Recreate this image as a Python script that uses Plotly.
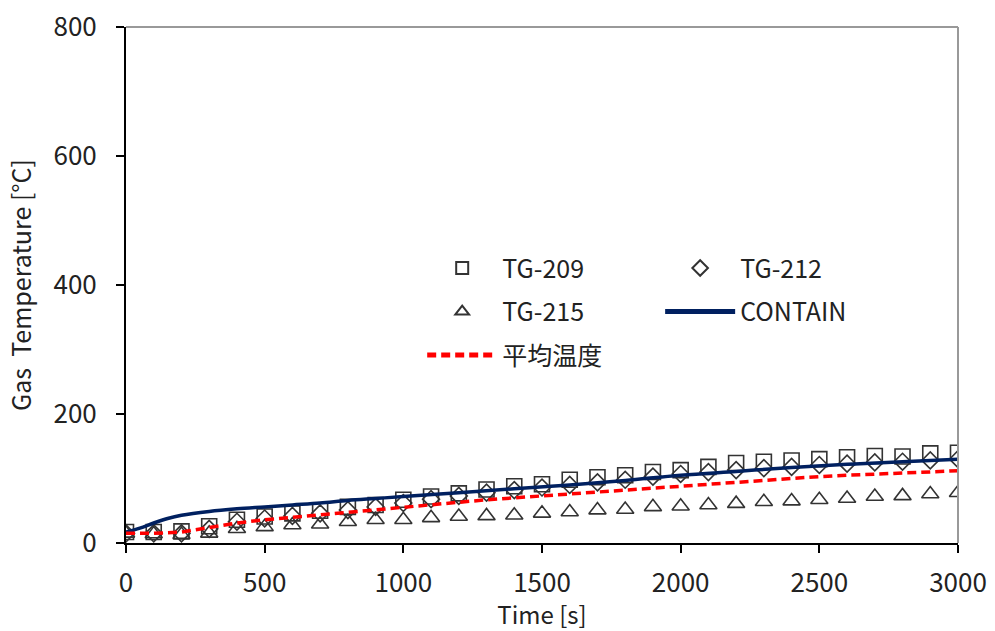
import plotly.graph_objects as go

# ---- data ----
time_tg = [0, 100, 200, 300, 400, 500, 600, 700, 800, 900, 1000, 1100, 1200, 1300, 1400, 1500,
           1600, 1700, 1800, 1900, 2000, 2100, 2200, 2300, 2400, 2500, 2600, 2700, 2800, 2900, 3000]
tg209 = [17, 17, 18, 26, 36, 41, 46, 50, 56, 59, 67, 72, 77, 83, 88, 91,
         98, 102, 105, 110, 113, 118, 124, 126, 128, 130, 133, 135, 134, 139, 140]
tg212 = [15, 15, 15, 22, 33, 38, 42, 46, 51, 56, 62, 68, 73, 78, 82, 86,
         90, 94, 98, 103, 107, 110, 113, 116, 118, 121, 123, 125, 126, 128, 130]
tg215 = [15, 14, 13, 15, 22, 25, 28, 29, 33, 36, 36, 39, 41, 42, 43, 46,
         48, 51, 52, 56, 57, 59, 61, 64, 65, 67, 69, 72, 73, 76, 78]
avg_temp = [15, 15, 17, 24, 31, 36, 40, 44, 48, 52, 55, 59, 63, 67, 70, 73,
            76, 79, 82, 85, 88, 91, 95, 98, 100, 103, 105, 107, 109, 111, 112]
time_contain = [0, 50, 100, 150, 200, 300, 400, 500, 600, 700, 800, 900, 1000, 1200, 1400,
                1600, 1800, 2000, 2200, 2400, 2600, 2800, 3000]
contain = [17, 23, 31, 38, 43, 49, 53, 56, 59, 62, 66, 69, 72, 78, 84,
           90, 97, 105, 111, 117, 122, 126, 130]

x_ticks = [0, 500, 1000, 1500, 2000, 2500, 3000]
y_ticks = [0, 200, 400, 600, 800]

FONT = "Noto Sans CJK JP"
MK = "#333333"

fig = go.Figure()
fig.add_trace(go.Scatter(x=time_tg, y=tg209, mode="markers", name="TG-209",
                         marker=dict(symbol="square-open", size=15, color=MK, line=dict(width=1.6, color=MK)),
                         legend="legend", legendgroup="a"))
fig.add_trace(go.Scatter(x=time_tg, y=tg212, mode="markers", name="TG-212",
                         marker=dict(symbol="diamond-open", size=13, color=MK, line=dict(width=1.6, color=MK)),
                         legend="legend2", legendgroup="b"))
fig.add_trace(go.Scatter(x=time_tg, y=tg215, mode="markers", name="TG-215",
                         marker=dict(symbol="triangle-up-open", size=15, color=MK, line=dict(width=1.6, color=MK)),
                         legend="legend", legendgroup="c"))
fig.add_trace(go.Scatter(x=time_contain, y=contain, mode="lines", name="CONTAIN",
                         line=dict(color="#002060", width=3.5, shape="spline"),
                         legend="legend2", legendgroup="d"))
fig.add_trace(go.Scatter(x=time_tg, y=avg_temp, mode="lines", name="平均温度",
                         line=dict(color="#FF0000", width=3.5, dash="9px,5px"),
                         legend="legend", legendgroup="e"))

axis_common = dict(showgrid=False, zeroline=False, showline=True, linecolor="black", linewidth=2,
                   ticks="outside", ticklen=8, tickwidth=2, tickcolor="black", automargin=False,
                   tickfont=dict(family=FONT, size=26, color="#222"))

fig.update_layout(
    width=995, height=631,
    margin=dict(l=126, r=37, t=27, b=88),
    paper_bgcolor="white", plot_bgcolor="white",
    font=dict(family=FONT, color="#222"),
    xaxis=dict(range=[0, 3000], tickvals=x_ticks, ticklabelstandoff=8,
               title=dict(text="Time [s]", font=dict(family=FONT, size=24)),
               **axis_common),
    yaxis=dict(range=[0, 800], tickvals=y_ticks, ticklabelstandoff=14,
               title=dict(text="Gas  Temperature [°C]", font=dict(family=FONT, size=25)),
               **axis_common),
    legend=dict(x=0.356, y=0.577, xanchor="left", yanchor="top", bgcolor="rgba(0,0,0,0)",
                font=dict(family=FONT, size=25, color="#222"), itemwidth=70,
                tracegroupgap=8, itemsizing="constant"),
    legend2=dict(x=0.642, y=0.577, xanchor="left", yanchor="top", bgcolor="rgba(0,0,0,0)",
                 font=dict(family=FONT, size=25, color="#222"), itemwidth=70,
                 tracegroupgap=8, itemsizing="constant"),
    shapes=[
        dict(type="line", xref="paper", yref="paper", x0=0, x1=1, y0=1, y1=1,
             line=dict(color="#999999", width=2)),
        dict(type="line", xref="paper", yref="paper", x0=1, x1=1, y0=0, y1=1,
             line=dict(color="#999999", width=2)),
    ],
)

fig.write_html("out.html", config={"displayModeBar": False},
               post_script="document.body.style.margin='0px';")
